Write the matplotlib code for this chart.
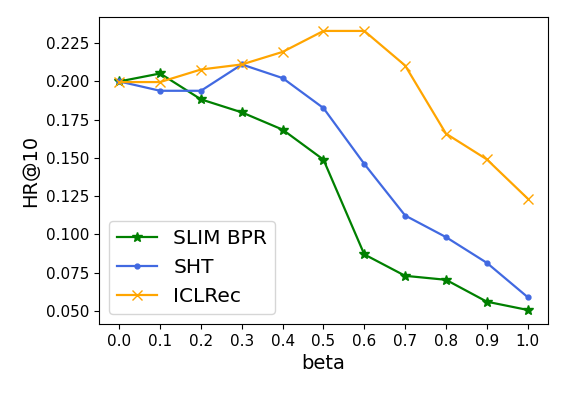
import matplotlib
matplotlib.use("Agg")
import matplotlib.pyplot as plt
import numpy as np

beta = [0.0, 0.1, 0.2, 0.3, 0.4, 0.5, 0.6, 0.7, 0.8, 0.9, 1.0]
slim_bpr = [0.200, 0.2052, 0.1883, 0.1798, 0.1685, 0.1489, 0.0870, 0.0730, 0.0704, 0.0561, 0.0507]
sht = [0.200, 0.1939, 0.1939, 0.2111, 0.2022, 0.1826, 0.1461, 0.1124, 0.0983, 0.0815, 0.0591]
iclrec = [0.1996, 0.1996, 0.2078, 0.2111, 0.2193, 0.2330, 0.2330, 0.2104, 0.1659, 0.1491, 0.1235]

fig = plt.figure(figsize=(5.65, 3.95), dpi=100)
ax = fig.add_axes([0.175, 0.180, 0.795, 0.777])

ax.plot(beta, slim_bpr, color='green', marker='*', markersize=7, linewidth=1.6, label='SLIM BPR')
ax.plot(beta, sht, color='royalblue', marker='.', markersize=7, linewidth=1.6, label='SHT')
ax.plot(beta, iclrec, color='orange', marker='x', markersize=7, linewidth=1.6, label='ICLRec')

ax.set_xticks(beta)
ax.set_yticks(np.arange(0.05, 0.2251, 0.025))
ax.tick_params(labelsize=11)
ax.set_xlabel('beta', fontsize=14)
ax.set_ylabel('HR@10', fontsize=14)
ax.legend(loc='lower left', fontsize=14.5)

fig.savefig('out.png', dpi=100)
